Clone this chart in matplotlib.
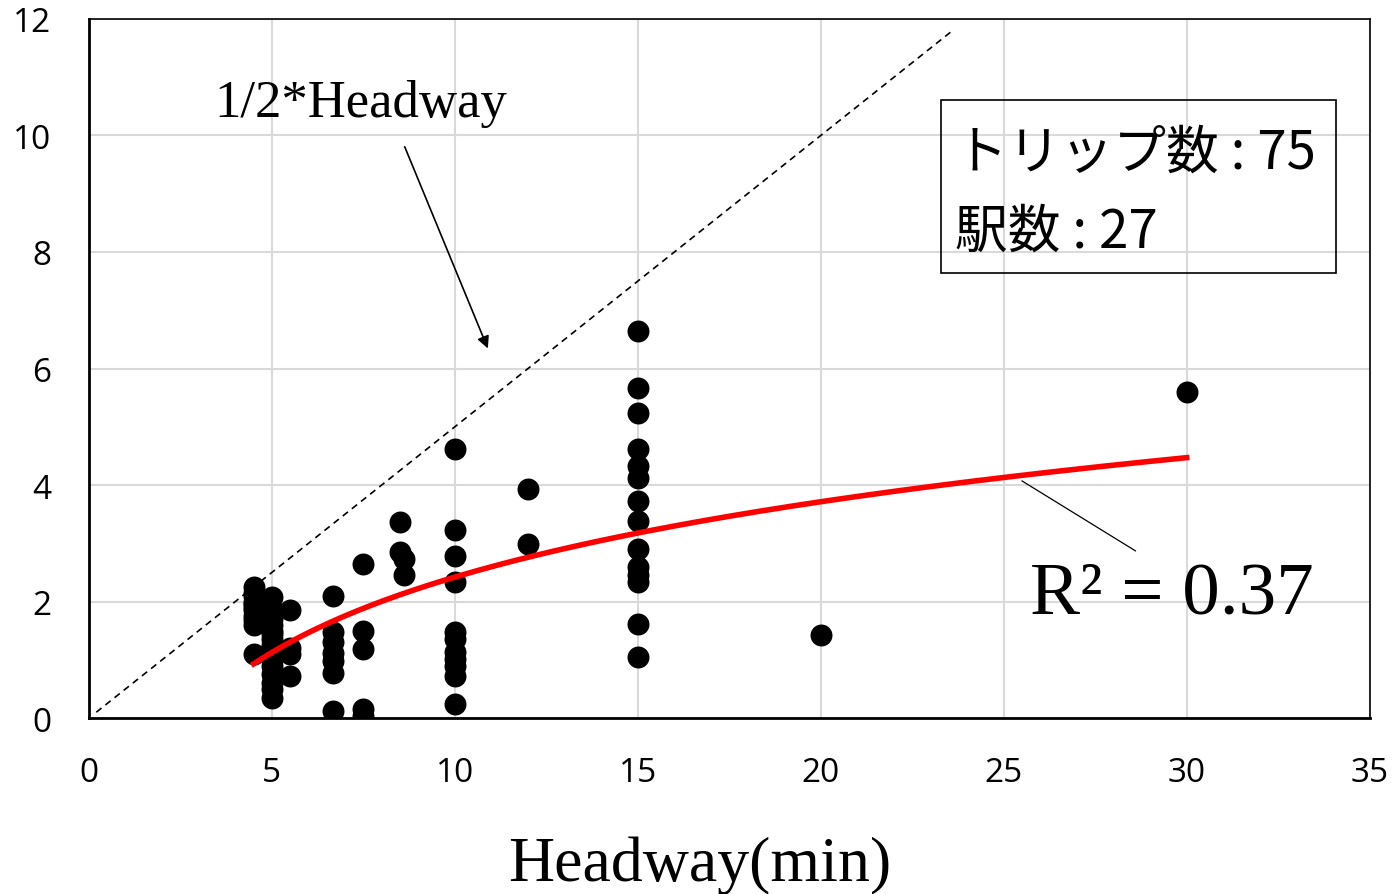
import matplotlib.pyplot as plt
import numpy as np
from matplotlib.patches import Rectangle

# headway (min) of each trip and the delay-like value on the y axis
headway = ([4.5] * 8 + [5.0] * 10 + [5.5] * 4 + [6.67] * 7 + [7.5] * 5
           + [8.5, 8.5, 8.6, 8.6] + [10.0] * 11 + [12.0] * 2 + [15.0] * 14
           + [20.0, 30.0] + [4.5, 5.0, 5.0, 4.5, 5.0, 4.5, 5.0, 5.0])
values = ([2.25, 2.1, 1.95, 1.85, 1.75, 1.68, 1.6, 1.1]
          + [2.08, 1.87, 1.6, 1.35, 1.2, 1.0, 0.75, 0.6, 0.5, 0.35]
          + [1.85, 1.2, 1.1, 0.72]
          + [2.1, 1.48, 1.3, 1.12, 0.98, 0.77, 0.12]
          + [2.64, 1.49, 1.18, 0.15, 0.03]
          + [3.37, 2.85, 2.73, 2.45]
          + [4.62, 3.22, 2.79, 2.33, 1.47, 1.36, 1.13, 1.01, 0.9, 0.73, 0.24]
          + [3.93, 2.99]
          + [6.65, 5.66, 5.23, 4.62, 4.33, 4.12, 3.73, 3.38, 2.9, 2.6, 2.45,
             2.33, 1.61, 1.04]
          + [1.42, 5.6]
          + [2.0, 1.7, 1.5, 2.15, 1.45, 1.9, 0.9, 1.25])

# log trendline y = a*ln(x) + b
trend_a = 1.866
trend_b = -1.877
r2_label = 'R² = 0.37'

x_ticks = [0, 5, 10, 15, 20, 25, 30, 35]
y_ticks = [0, 2, 4, 6, 8, 10, 12]

headway = np.array(headway)
values = np.array(values)

fit_x = np.linspace(headway.min(), headway.max(), 200)
fit_y = trend_a * np.log(fit_x) + trend_b

fig = plt.figure(figsize=(13.99, 8.95), dpi=100)
ax = fig.add_axes([0.0636, 0.1966, 0.9154, 0.7811])

ax.set_xlim(0, 35)
ax.set_ylim(0, 12)
ax.set_xticks(x_ticks)
ax.set_yticks(y_ticks)
ax.grid(True, color='#d9d9d9', lw=1.5)
ax.set_axisbelow(True)
ax.tick_params(length=0, labelsize=24)
ax.tick_params(axis='x', pad=27)
ax.tick_params(axis='y', pad=27)
for lab in ax.get_xticklabels() + ax.get_yticklabels():
    lab.set_family('Open Sans')
for s in ax.spines.values():
    s.set_color('black')
    s.set_linewidth(1.2)
ax.spines['left'].set_linewidth(2)
ax.spines['bottom'].set_linewidth(2)

# half headway reference line
hx = np.array([0.2, 23.6])
ax.plot(hx, hx / 2, ls=(0, (4, 3)), color='black', lw=1.2)

ax.scatter(headway, values, s=250, color='black', zorder=3, lw=0)
ax.plot(fit_x, fit_y, color='#ff0000', lw=4, zorder=4)

ax.text(7.43, 10.55, '1/2*Headway', family='Liberation Serif', fontsize=38,
        ha='center', va='center')
ax.annotate('', xy=(10.93, 6.3), xytext=(8.6, 9.85),
            arrowprops=dict(arrowstyle='-|>', color='black', lw=1.2,
                            mutation_scale=18))

ax.text(29.6, 2.12, r2_label, family='Liberation Serif', fontsize=54,
        ha='center', va='center')
ax.plot([25.5, 28.6], [4.07, 2.87], color='black', lw=0.9)

ax.add_patch(Rectangle((0.665, 0.637), 0.309, 0.247, transform=ax.transAxes,
                       fill=False, edgecolor='black', lw=1.2, zorder=5))
jp = ['Noto Sans CJK JP', 'DejaVu Sans']
ax.text(0.676, 0.81, 'トリップ数 : 75', transform=ax.transAxes, family=jp,
        fontsize=38, va='center', ha='left')
ax.text(0.676, 0.696, '駅数 : 27', transform=ax.transAxes, family=jp,
        fontsize=38, va='center', ha='left')

ax.set_xlabel('Headway(min)', family='Liberation Serif', fontsize=46)
ax.xaxis.set_label_coords(0.477, -0.21)
ax.xaxis.label.set_va('center')

fig.savefig('out.png', dpi=100)
